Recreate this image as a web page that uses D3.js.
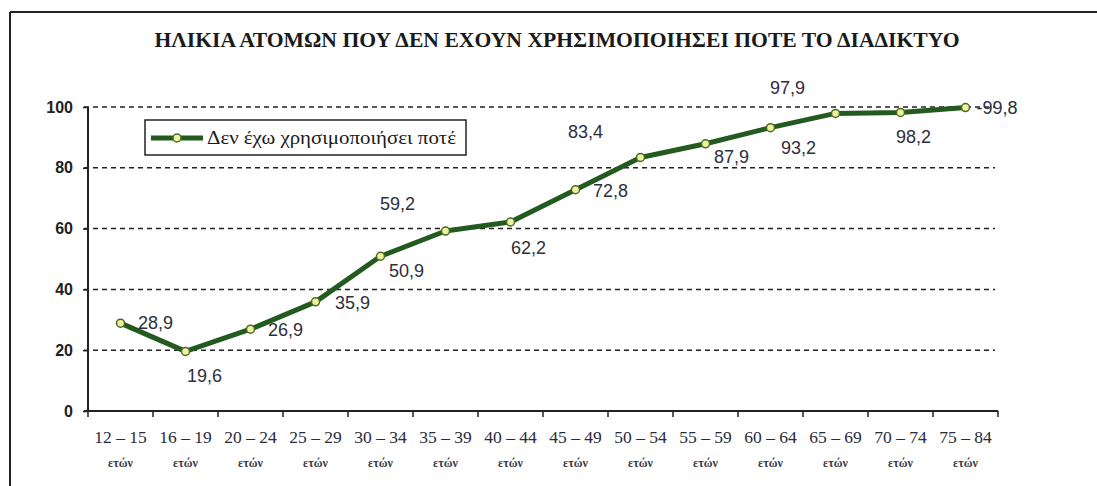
<!DOCTYPE html>
<html>
<head>
<meta charset="utf-8">
<script src="https://cdn.jsdelivr.net/npm/d3@7"></script>
<style>
  body { margin: 0; background: #fff; }
  svg { display: block; }
</style>
</head>
<body>
<svg id="chart" width="1097" height="486"></svg>
<script>
// data
var ageGroups = ["12 – 15", "16 – 19", "20 – 24", "25 – 29", "30 – 34", "35 – 39", "40 – 44",
  "45 – 49", "50 – 54", "55 – 59", "60 – 64", "65 – 69", "70 – 74", "75 – 84"];
var neverUsed = [28.9, 19.6, 26.9, 35.9, 50.9, 59.2, 62.2, 72.8, 83.4, 87.9, 93.2, 97.9, 98.2, 99.8];
var yTicks = [0, 20, 40, 60, 80, 100];
var seriesName = "Δεν έχω χρησιμοποιήσει ποτέ";
var title = "ΗΛΙΚΙΑ ΑΤΟΜΩΝ ΠΟΥ ΔΕΝ ΕΧΟΥΝ ΧΡΗΣΙΜΟΠΟΙΗΣΕΙ ΠΟΤΕ ΤΟ ΔΙΑΔΙΚΤΥΟ";

// where each value label sits relative to its point (as in the original, some are off)
var labelOffsets = [[35, 0], [19, 25], [35, 1], [37, 1], [26, 15], [-48, -27], [18, 26],
  [35, 1], [-55, -25], [26, 13], [28, 20], [-48, -25], [13, 25], [0, 0]];

var serif = "'Liberation Serif', 'Times New Roman', 'DejaVu Serif', serif";
var sans = "'Liberation Sans', Arial, sans-serif";

var svg = d3.select("#chart");
var width = 1097, height = 486;

var x = d3.scaleBand().domain(ageGroups).range([88, 998]);
var y = d3.scaleLinear().domain([0, 100]).range([411, 107]);

// frame
svg.append("line").attr("x1", 10).attr("x2", width).attr("y1", 12).attr("y2", 12)
  .attr("stroke", "#222").attr("stroke-width", 2);
svg.append("line").attr("x1", 10).attr("x2", 10).attr("y1", 12).attr("y2", height)
  .attr("stroke", "#222").attr("stroke-width", 2);

// title
svg.append("text")
  .attr("x", 557).attr("y", 47)
  .attr("text-anchor", "middle")
  .attr("textLength", 805)
  .attr("lengthAdjust", "spacingAndGlyphs")
  .style("font-family", serif)
  .style("font-weight", "bold")
  .style("font-size", "21px")
  .attr("fill", "#1a1a1a")
  .text(title);

// gridlines
svg.append("g")
  .selectAll("line")
  .data(yTicks.filter(function(d) { return d > 0; }))
  .enter().append("line")
  .attr("x1", 84).attr("x2", 995)
  .attr("y1", function(d) { return y(d); })
  .attr("y2", function(d) { return y(d); })
  .attr("stroke", "#222")
  .attr("stroke-width", 1.5)
  .attr("stroke-dasharray", "5,4");

// y axis
var yAxis = svg.append("g")
  .attr("transform", "translate(88,0)")
  .call(d3.axisLeft(y).tickValues(yTicks).tickSize(5).tickPadding(10).tickFormat(d3.format("d")));
yAxis.select(".domain").attr("stroke", "#222").attr("stroke-width", 2).attr("d", "M0," + y(100) + "V" + y(0));
yAxis.selectAll(".tick line").attr("stroke", "#222").attr("stroke-width", 1.5);
yAxis.selectAll("text")
  .style("font-family", sans)
  .style("font-weight", "bold")
  .style("font-size", "16px")
  .attr("fill", "#222");

// x axis
var boundaries = d3.range(ageGroups.length + 1).map(function(i) { return 88 + i * x.bandwidth(); });
svg.append("line").attr("x1", 84).attr("x2", 998).attr("y1", y(0)).attr("y2", y(0))
  .attr("stroke", "#222").attr("stroke-width", 2);
svg.append("g").selectAll("line")
  .data(boundaries)
  .enter().append("line")
  .attr("x1", function(d) { return d; }).attr("x2", function(d) { return d; })
  .attr("y1", y(0)).attr("y2", y(0) + 6)
  .attr("stroke", "#222").attr("stroke-width", 1.5);

var xLabels = svg.append("g").selectAll("g")
  .data(ageGroups)
  .enter().append("g")
  .attr("transform", function(d) { return "translate(" + (x(d) + x.bandwidth() / 2) + ",0)"; });
xLabels.append("text")
  .attr("y", 443)
  .attr("text-anchor", "middle")
  .style("font-family", serif)
  .style("font-size", "17.5px")
  .attr("fill", "#2a2a3a")
  .text(function(d) { return d; });
xLabels.append("text")
  .attr("y", 467)
  .attr("text-anchor", "middle")
  .style("font-family", serif)
  .style("font-weight", "bold")
  .style("font-size", "12px")
  .attr("fill", "#3a3a44")
  .text("ετών");

// series line
var pts = ageGroups.map(function(g, i) { return { g: g, v: neverUsed[i], i: i }; });
var line = d3.line()
  .x(function(d) { return x(d.g) + x.bandwidth() / 2; })
  .y(function(d) { return y(d.v); });

svg.append("path")
  .datum(pts)
  .attr("d", line)
  .attr("fill", "none")
  .attr("stroke", "#235a1f")
  .attr("stroke-width", 5)
  .attr("stroke-linejoin", "round");

svg.append("g").selectAll("circle")
  .data(pts)
  .enter().append("circle")
  .attr("cx", function(d) { return x(d.g) + x.bandwidth() / 2; })
  .attr("cy", function(d) { return y(d.v); })
  .attr("r", 4)
  .attr("fill", "#eef29a")
  .attr("stroke", "#4a6a2a")
  .attr("stroke-width", 1.5);

// value labels
var last = pts.length - 1;
svg.append("g").selectAll("text")
  .data(pts)
  .enter().append("text")
  .attr("x", function(d) { return x(d.g) + x.bandwidth() / 2 + (d.i === last ? 11 : labelOffsets[d.i][0]); })
  .attr("y", function(d) { return y(d.v) + labelOffsets[d.i][1] + 6; })
  .attr("text-anchor", function(d) { return d.i === last ? "start" : "middle"; })
  .style("font-family", sans)
  .style("font-size", "18px")
  .attr("fill", "#2e2e3c")
  .text(function(d) { return (d.i === last ? "-" : "") + d3.format(".1f")(d.v).replace(".", ","); });

// legend
var legend = svg.append("g");
legend.append("rect")
  .attr("x", 145).attr("y", 120).attr("width", 321).attr("height", 35)
  .attr("fill", "#fff").attr("stroke", "#222").attr("stroke-width", 1.5);
legend.append("line")
  .attr("x1", 151).attr("x2", 203).attr("y1", 138).attr("y2", 138)
  .attr("stroke", "#235a1f").attr("stroke-width", 5);
legend.append("circle")
  .attr("cx", 177).attr("cy", 138).attr("r", 4)
  .attr("fill", "#eef29a").attr("stroke", "#4a6a2a").attr("stroke-width", 1.5);
legend.append("text")
  .attr("x", 207).attr("y", 144)
  .attr("textLength", 249)
  .attr("lengthAdjust", "spacingAndGlyphs")
  .style("font-family", serif)
  .style("font-size", "19px")
  .attr("fill", "#1a1a1a")
  .text(seriesName);
</script>
</body>
</html>
